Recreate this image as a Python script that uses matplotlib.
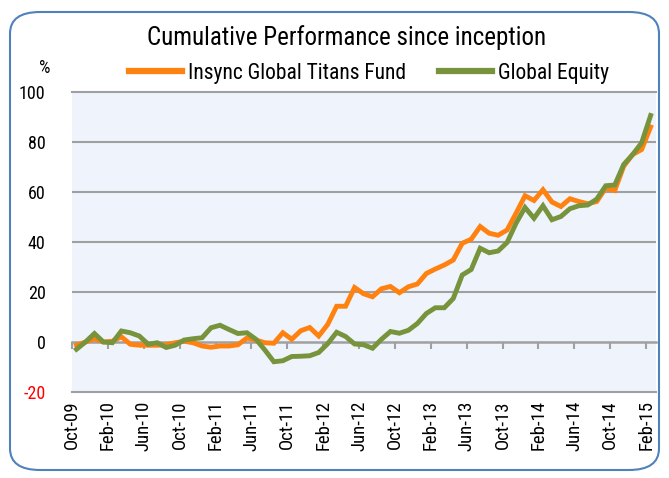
import matplotlib
matplotlib.use("Agg")
import matplotlib.pyplot as plt
from matplotlib.patches import FancyBboxPatch
from matplotlib.lines import Line2D
import numpy as np

plt.rcParams['font.family'] = ['DejaVu Sans Condensed', 'Liberation Sans Narrow', 'Roboto Condensed', 'Roboto', 'DejaVu Sans']

# month-end values, Oct-09 .. Feb-15
tick_labels = ["Oct-09", "Feb-10", "Jun-10", "Oct-10", "Feb-11", "Jun-11", "Oct-11",
               "Feb-12", "Jun-12", "Oct-12", "Feb-13", "Jun-13", "Oct-13", "Feb-14",
               "Jun-14", "Oct-14", "Feb-15"]

fund = [-1.3, 0, 1.3, 0, 0.3, 2.1, -0.9, -1.3, -1.3, -1.3, -1.1, -0.3, 0.3, -0.3,
        -1.6, -2.1, -1.6, -1.6, -1.1, 1.6, 0.8, -0.3, -0.5, 3.7, 1.1, 4.5, 5.8, 2.4,
        7.0, 14.3, 14.3, 21.8, 19.3, 18.1, 21.3, 22.2, 19.7, 22.1, 23.2, 27.4, 29.2,
        30.8, 32.8, 39.5, 41.1, 46.2, 43.5, 42.7, 44.8, 51.5, 58.5, 56.6, 60.9, 56.0,
        54.2, 57.3, 56.2, 55.3, 56.2, 61.6, 60.6, 70.3, 75.0, 77.0, 86.0]

equity = [-2.9, 0, 3.4, 0, -0.3, 4.4, 3.7, 2.4, -0.9, -0.3, -2.2, -1.3, 0.8, 1.3,
          1.7, 5.7, 6.7, 5.0, 3.4, 3.7, 1.1, -3.2, -7.9, -7.5, -5.8, -5.7, -5.5, -4.2,
          -0.7, 3.9, 2.2, -0.8, -1.1, -2.5, 1.1, 4.2, 3.5, 4.7, 7.4, 11.4, 13.7, 13.7,
          17.4, 26.8, 29.0, 37.5, 35.7, 36.4, 39.8, 47.5, 53.8, 49.5, 54.5, 48.9, 50.2,
          53.3, 54.5, 54.8, 57.2, 62.5, 62.8, 71.0, 75.0, 79.7, 90.6]

# x in months since start of Oct-09, points at month ends
months = np.arange(len(fund)) + 0.5
tick_pos = np.arange(0, 65, 4)

orange = "#FF8210"
green = "#77933C"
grid_c = "#A0A0A0"

fig = plt.figure(figsize=(6.69, 4.78), dpi=100)
W, H = 669, 478

border = FancyBboxPatch((10 / W, 8 / H), 649 / W, 458 / H,
                        boxstyle="round,pad=0,rounding_size=0.045",
                        transform=fig.transFigure, facecolor="none",
                        edgecolor="#4F81BD", linewidth=1.5, zorder=-1)
fig.patches.append(border)

ax = fig.add_axes([72 / W, 1 - 392 / H, 584 / W, 300 / H])
ax.set_facecolor("#EFF3FB")

ax.plot(months, fund, color=orange, lw=3.5, solid_joinstyle="miter", label="Insync Global Titans Fund")
ax.plot(months, equity, color=green, lw=3.5, solid_joinstyle="miter", label="Global Equity")

ax.set_xlim(0, 65.1)
ax.set_ylim(-20, 100)
ax.set_yticks([-20, 0, 20, 40, 60, 80, 100])
ax.set_yticklabels(["-20", "0", "20", "40", "60", "80", "100"], fontsize=13)
ax.get_yticklabels()[0].set_color("red")
ax.tick_params(axis="y", length=0, pad=19)

ax.set_xticks(tick_pos)
ax.set_xticklabels(tick_labels, rotation=90, fontsize=13.5)
ax.tick_params(axis="x", length=0, pad=6)

for s in ["left", "right"]:
    ax.spines[s].set_visible(False)
for s in ["top", "bottom"]:
    ax.spines[s].set_color(grid_c)
    ax.spines[s].set_linewidth(1.5)

for v in [20, 40, 60, 80]:
    ax.axhline(v, color=grid_c, lw=1.5, zorder=0.5)

# zero axis with tick marks
zero_ax = ax.secondary_xaxis(20 / 120)
zero_ax.set_xticks(tick_pos)
zero_ax.set_xticklabels([])
zero_ax.tick_params(axis="x", length=5, width=1.5, color=grid_c, direction="out")
zero_ax.spines["bottom"].set_color(grid_c)
zero_ax.spines["bottom"].set_linewidth(1.8)

fig.text(347 / W, 1 - 38 / H, "Cumulative Performance since inception",
         ha="center", va="center", fontsize=18)
fig.text(45 / W, 1 - 68 / H, "%", ha="center", va="center", fontsize=13)

handles = [Line2D([], [], color=orange, lw=4.5), Line2D([], [], color=green, lw=4.5)]
fig.legend(handles, ["Insync Global Titans Fund", "Global Equity"],
           loc="center", bbox_to_anchor=(369 / W, 1 - 73 / H), ncol=2,
           frameon=False, fontsize=15.5, handlelength=2.45, handletextpad=0.28,
           columnspacing=1.55)

fig.savefig("out.png", dpi=100)
